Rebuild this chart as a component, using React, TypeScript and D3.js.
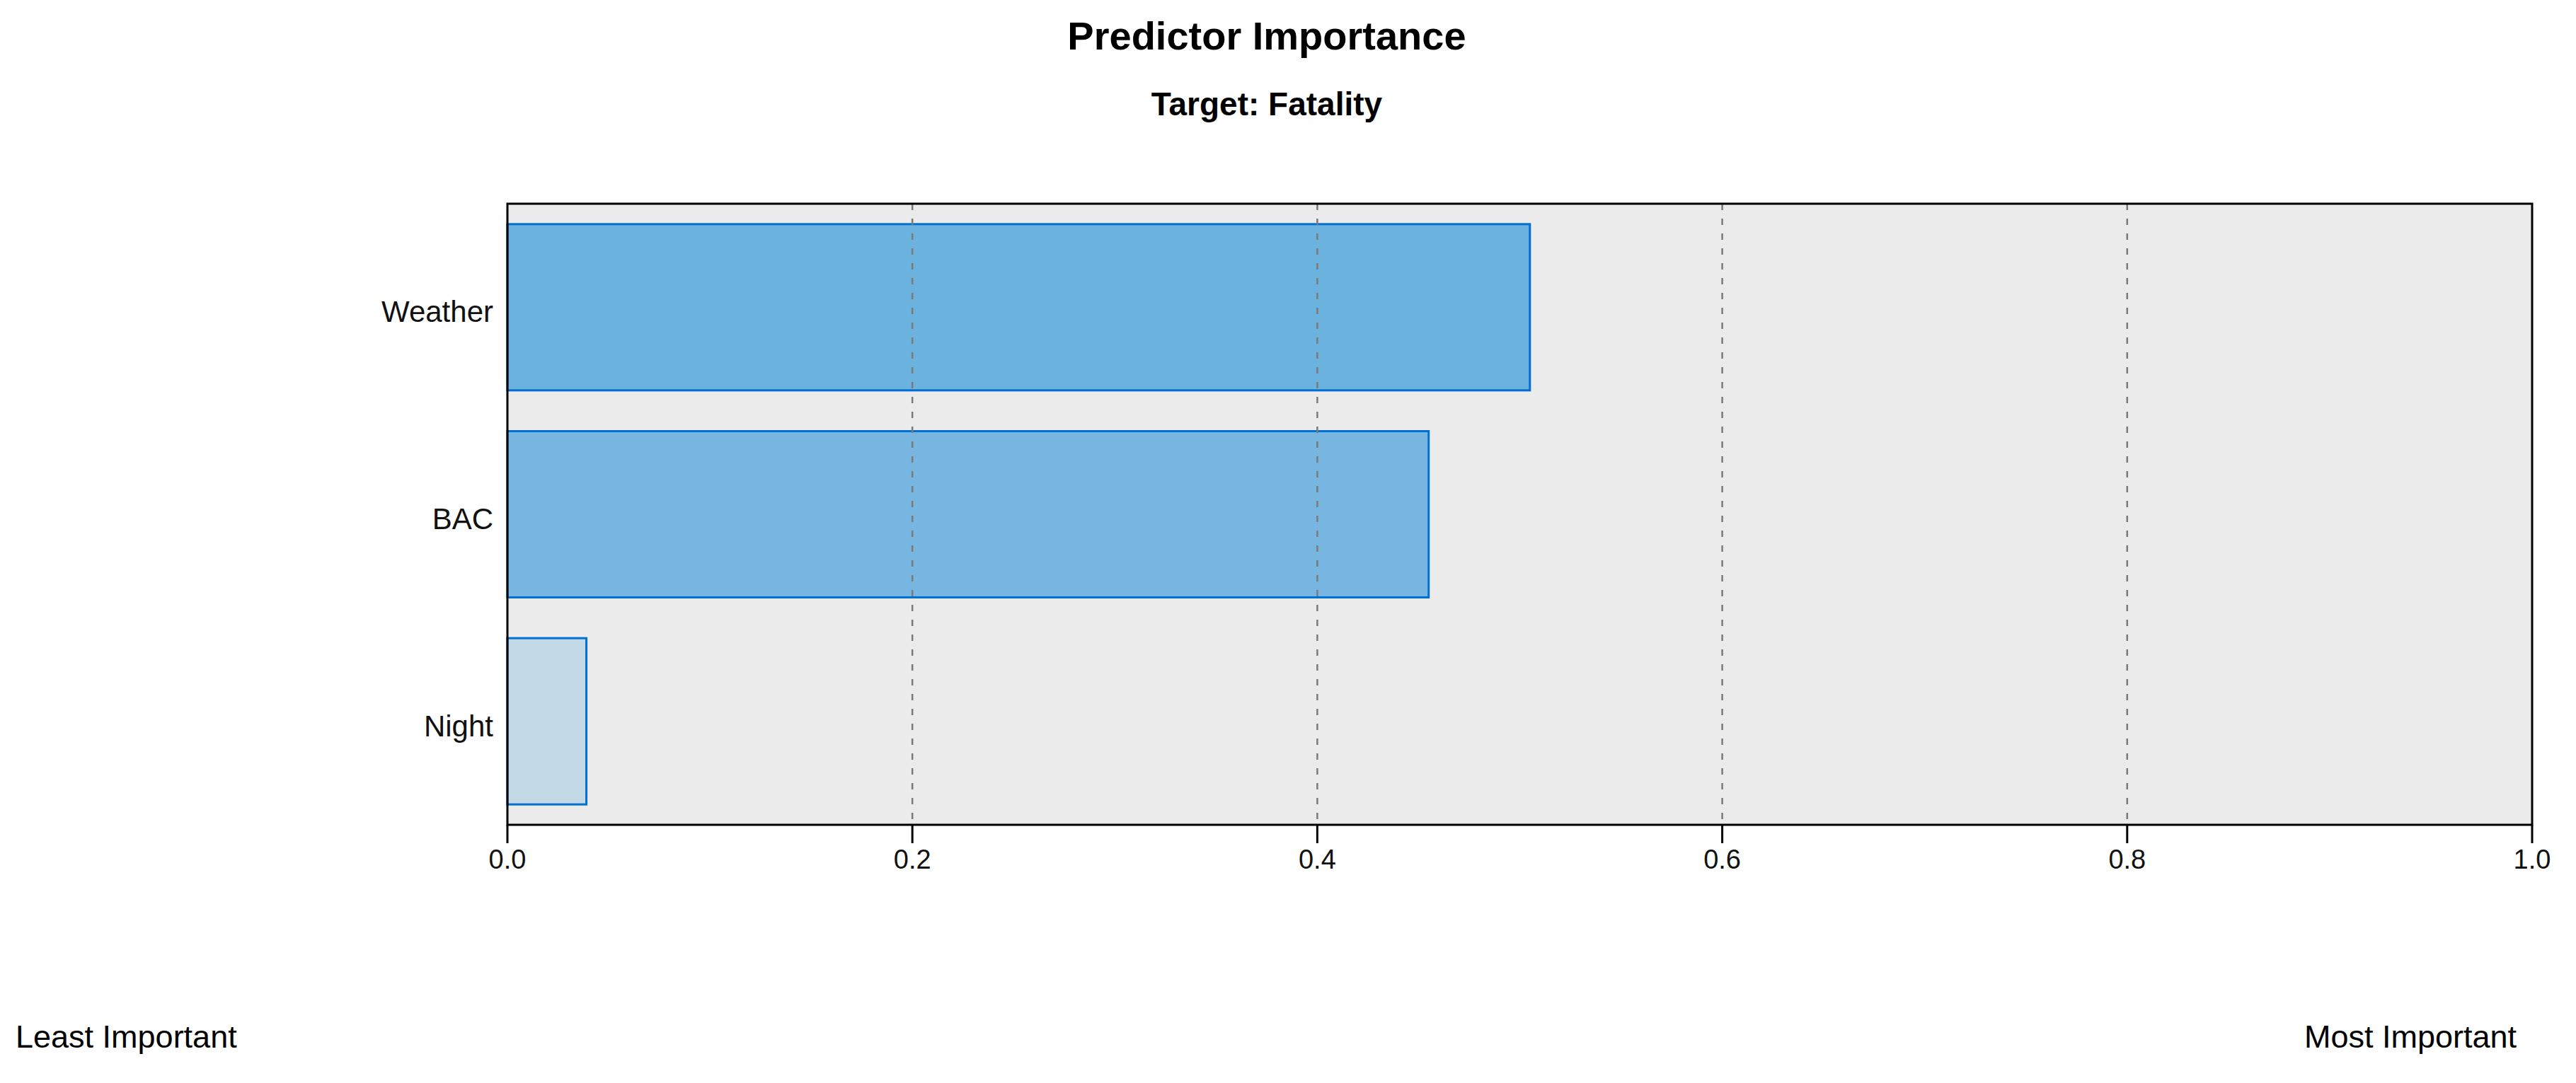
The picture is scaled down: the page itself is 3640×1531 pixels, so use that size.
import React from "react";
import * as d3 from "d3";

const width = 3640;
const height = 1531;
const margin = { top: 288, right: 62, bottom: 365, left: 717 };

// predictor importance, top to bottom
const predictors = ["Weather", "BAC", "Night"];
const importance = [0.505, 0.455, 0.039];
const barFills = ["#6cb2de", "#77b6e0", "#c3d9e6"];
const xTicks = [0, 0.2, 0.4, 0.6, 0.8, 1.0];
const gridTicks = [0.2, 0.4, 0.6, 0.8];

const font = "'Liberation Sans', Arial, sans-serif";

const xScale = d3
  .scaleLinear()
  .domain([0, 1])
  .range([margin.left, width - margin.right]);
const yScale = d3
  .scaleBand<string>()
  .domain(predictors)
  .range([margin.top, height - margin.bottom])
  .paddingInner(0.197)
  .paddingOuter(0.0985);

const App = () => {
  const plotLeft = xScale(0);
  const plotRight = xScale(1);
  const plotTop = margin.top;
  const plotBottom = height - margin.bottom;
  const titleX = 1790;

  return (
    <svg
      width={width}
      height={height}
      style={{ position: "absolute", left: 0, top: 0, display: "block", background: "#fff" }}
      fontFamily={font}
    >
      {/* titles */}
      <text x={titleX} y={70} textAnchor="middle" fontSize={56} fontWeight="bold" fill="#000">
        Predictor Importance
      </text>
      <text x={titleX} y={163} textAnchor="middle" fontSize={46} fontWeight="bold" fill="#000">
        Target: Fatality
      </text>

      {/* plot background */}
      <rect
        x={plotLeft}
        y={plotTop}
        width={plotRight - plotLeft}
        height={plotBottom - plotTop}
        fill="#ebebeb"
      />

      {/* bars */}
      <g>
        {predictors.map((p, i) => (
          <rect
            key={p}
            x={xScale(0)}
            y={yScale(p)}
            width={xScale(importance[i]) - xScale(0)}
            height={yScale.bandwidth()}
            fill={barFills[i]}
            stroke="#006fd2"
            strokeWidth={3}
          />
        ))}
      </g>

      {/* dashed grid lines sit over the bars */}
      <g>
        {gridTicks.map(t => (
          <line
            key={t}
            x1={xScale(t)}
            x2={xScale(t)}
            y1={plotTop}
            y2={plotBottom}
            stroke="#7a7a7a"
            strokeWidth={2.5}
            strokeDasharray="9 12"
          />
        ))}
      </g>

      {/* frame */}
      <rect
        x={plotLeft}
        y={plotTop}
        width={plotRight - plotLeft}
        height={plotBottom - plotTop}
        fill="none"
        stroke="#000"
        strokeWidth={3}
      />

      {/* category labels */}
      <g>
        {predictors.map(p => (
          <text
            key={p}
            x={plotLeft - 20}
            y={(yScale(p) as number) + yScale.bandwidth() / 2 + 21}
            textAnchor="end"
            fontSize={42}
            fill="#111"
          >
            {p}
          </text>
        ))}
      </g>

      {/* x axis ticks */}
      <g>
        {xTicks.map(t => (
          <g key={t}>
            <line
              x1={xScale(t)}
              x2={xScale(t)}
              y1={plotBottom}
              y2={plotBottom + 26}
              stroke="#000"
              strokeWidth={3}
            />
            <text x={xScale(t)} y={1228} textAnchor="middle" fontSize={38} fill="#111">
              {d3.format(".1f")(t)}
            </text>
          </g>
        ))}
      </g>

      {/* importance direction labels */}
      <text x={22} y={1481} fontSize={45} fill="#000">
        Least Important
      </text>
      <text x={3556} y={1481} textAnchor="end" fontSize={45} fill="#000">
        Most Important
      </text>
    </svg>
  );
};

export default App;
